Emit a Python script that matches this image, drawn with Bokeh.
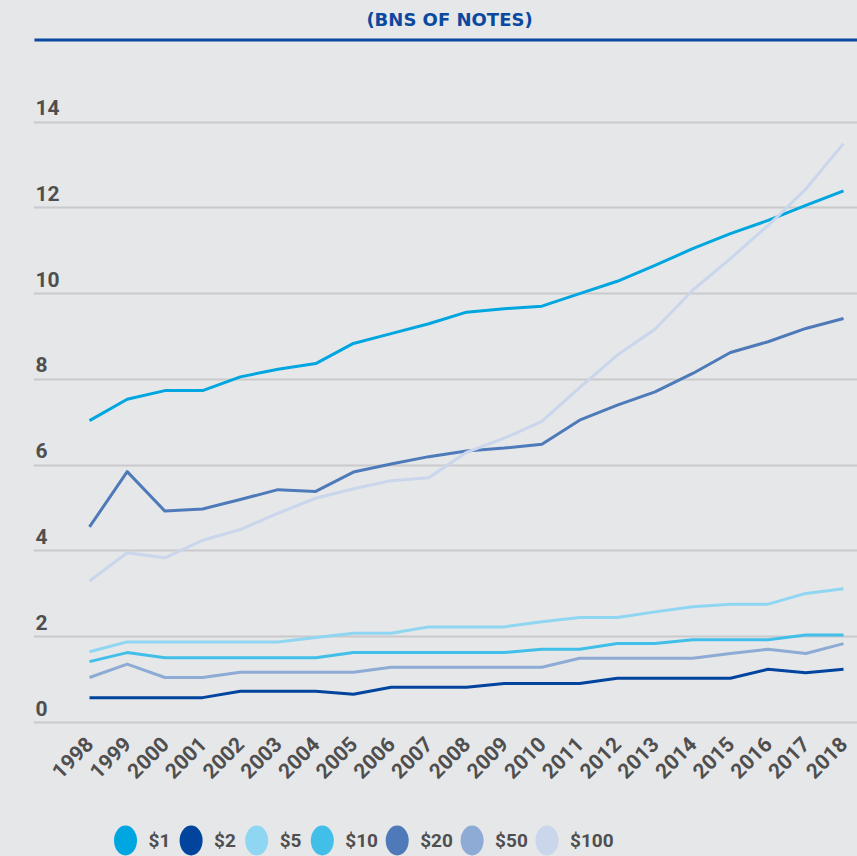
import math
from bokeh.plotting import figure
from bokeh.models import Range1d, FixedTicker, ColumnDataSource
from bokeh.layouts import column
from bokeh.core.properties import value
from bokeh.embed import file_html
from bokeh.resources import INLINE

# ---------------- data ----------------
years = list(range(1998, 2019))
year_labels = [str(y) for y in years]
y_ticks = [0, 2, 4, 6, 8, 10, 12, 14]
y_tick_labels = [str(t) for t in y_ticks]
title_text = "(BNS OF NOTES)"

series_names = ["$1", "$2", "$5", "$10", "$20", "$50", "$100"]
d1 = [7.04, 7.54, 7.74, 7.74, 8.06, 8.24, 8.37, 8.84, 9.07, 9.30, 9.57,
      9.65, 9.71, 10.00, 10.29, 10.66, 11.05, 11.40, 11.71, 12.06, 12.40]
d2 = [0.58, 0.58, 0.58, 0.58, 0.73, 0.73, 0.73, 0.66, 0.82, 0.82, 0.82,
      0.91, 0.91, 0.91, 1.03, 1.03, 1.03, 1.03, 1.24, 1.16, 1.24]
d5 = [1.65, 1.88, 1.88, 1.88, 1.88, 1.88, 1.98, 2.08, 2.08, 2.23, 2.23,
      2.23, 2.35, 2.45, 2.45, 2.58, 2.70, 2.76, 2.76, 3.01, 3.12]
d10 = [1.42, 1.63, 1.51, 1.51, 1.51, 1.51, 1.51, 1.63, 1.63, 1.63, 1.63,
       1.63, 1.71, 1.71, 1.84, 1.84, 1.93, 1.93, 1.93, 2.04, 2.04]
d20 = [4.56, 5.85, 4.93, 4.98, 5.20, 5.43, 5.39, 5.84, 6.03, 6.20, 6.33,
       6.40, 6.49, 7.05, 7.40, 7.71, 8.14, 8.63, 8.88, 9.19, 9.42]
d50 = [1.05, 1.36, 1.05, 1.05, 1.17, 1.17, 1.17, 1.17, 1.29, 1.29, 1.29,
       1.29, 1.29, 1.50, 1.50, 1.50, 1.50, 1.61, 1.71, 1.61, 1.84]
d100 = [3.30, 3.96, 3.84, 4.25, 4.50, 4.88, 5.23, 5.45, 5.64, 5.71, 6.30,
        6.63, 7.02, 7.81, 8.57, 9.17, 10.08, 10.82, 11.59, 12.44, 13.50]
series_values = [d1, d2, d5, d10, d20, d50, d100]

# ---------------- styles ----------------
colors = ["#00a6e0", "#00449e", "#8fd6f2", "#42bfe9", "#4e7ab9", "#8eabd5", "#c9d6eb"]
BG = "#e6e7e9"
TITLE_BLUE = "#0b48a0"
GRID = "#c9cacc"
LABEL = "#4f4f4f"
FONT = "Roboto"

W = 857
H_MAIN = 808
FRAME_H = 730
PX_PER_UNIT = 42.88
PX_PER_YEAR = 37.7
FRAME_LEFT = 33
zero_px_from_top = 722.0
frame_left_to_first = 56.0
frame_w = W - FRAME_LEFT

y_bottom = -(FRAME_H - zero_px_from_top) / PX_PER_UNIT
y_top = zero_px_from_top / PX_PER_UNIT
x_start = years[0] - frame_left_to_first / PX_PER_YEAR
x_end = x_start + frame_w / PX_PER_YEAR


def y_of_px(px_from_top):
    return y_top - px_from_top / PX_PER_UNIT


def x_of_px(px_from_frame_left):
    return x_start + px_from_frame_left / PX_PER_YEAR


p = figure(width=W, height=H_MAIN, output_backend="svg", toolbar_location=None,
           x_range=Range1d(x_start, x_end), y_range=Range1d(y_bottom, y_top),
           y_axis_location=None,
           min_border_left=FRAME_LEFT, min_border_right=0, min_border_top=0,
           min_border_bottom=H_MAIN - FRAME_H)
p.background_fill_color = BG
p.border_fill_color = BG
p.outline_line_color = None

p.xgrid.grid_line_color = None
p.ygrid.ticker = FixedTicker(ticks=y_ticks)
p.ygrid.grid_line_color = GRID
p.ygrid.grid_line_width = 2

p.xaxis.ticker = FixedTicker(ticks=years)
p.xaxis.major_label_overrides = {y: lbl for y, lbl in zip(years, year_labels)}
p.xaxis.axis_line_color = None
p.xaxis.major_tick_line_color = None
p.xaxis.minor_tick_line_color = None
p.xaxis.major_label_orientation = math.pi / 4
p.xaxis.major_label_standoff = 4
p.xaxis.major_label_text_font = FONT
p.xaxis.major_label_text_font_style = "bold"
p.xaxis.major_label_text_font_size = "21px"
p.xaxis.major_label_text_color = LABEL

# y tick labels sitting above their gridlines
ysrc = ColumnDataSource(dict(x=[x_of_px(2)] * len(y_ticks), y=y_ticks, t=y_tick_labels))
p.text(x="x", y="y", text="t", source=ysrc, text_font=value(FONT),
       text_font_style="bold", text_font_size="21px", text_color=LABEL,
       text_align="left", text_baseline="bottom", y_offset=-7)

# title and rule
p.text(x=[x_of_px(449 - FRAME_LEFT)], y=[y_of_px(19)], text=[title_text],
       text_font=value("DejaVu Sans"), text_font_style="bold", text_font_size="18px",
       text_color=TITLE_BLUE, text_align="center", text_baseline="middle")
p.segment(x0=[x_of_px(1)], x1=[x_end], y0=[y_of_px(39.5)], y1=[y_of_px(39.5)],
          line_color=TITLE_BLUE, line_width=3)

for vals, col in zip(series_values, colors):
    p.line(years, vals, line_color=col, line_width=3, line_join="round")

# ---------------- legend strip ----------------
# frame is aligned with the main frame by the column layout, so map it to page pixels
H_LEG = 856 - H_MAIN
leg = figure(width=W, height=H_LEG, output_backend="svg", toolbar_location=None,
             x_range=Range1d(FRAME_LEFT, W), y_range=Range1d(0, H_LEG),
             x_axis_location=None, y_axis_location=None,
             min_border_left=FRAME_LEFT, min_border_right=0,
             min_border_top=0, min_border_bottom=0)
leg.background_fill_color = BG
leg.border_fill_color = BG
leg.outline_line_color = None
leg.grid.visible = False

cx = []
tx = []
xpos = 125.0
for name in series_names:
    cx.append(xpos)
    tx.append(xpos + 23)
    xpos += 47 + 9.3 * len(name)
cy = H_LEG - 32
leg.ellipse(x=cx, y=[cy] * len(cx), width=23, height=30, fill_color=colors,
            line_color=None)
leg.text(x=tx, y=[cy] * len(tx), text=series_names, text_font=value(FONT),
         text_font_style="bold", text_font_size="19px", text_color=LABEL,
         text_align="left", text_baseline="middle")

layout = column(p, leg, spacing=0)
layout.background = BG
open("out.html", "w").write(file_html(layout, INLINE))
